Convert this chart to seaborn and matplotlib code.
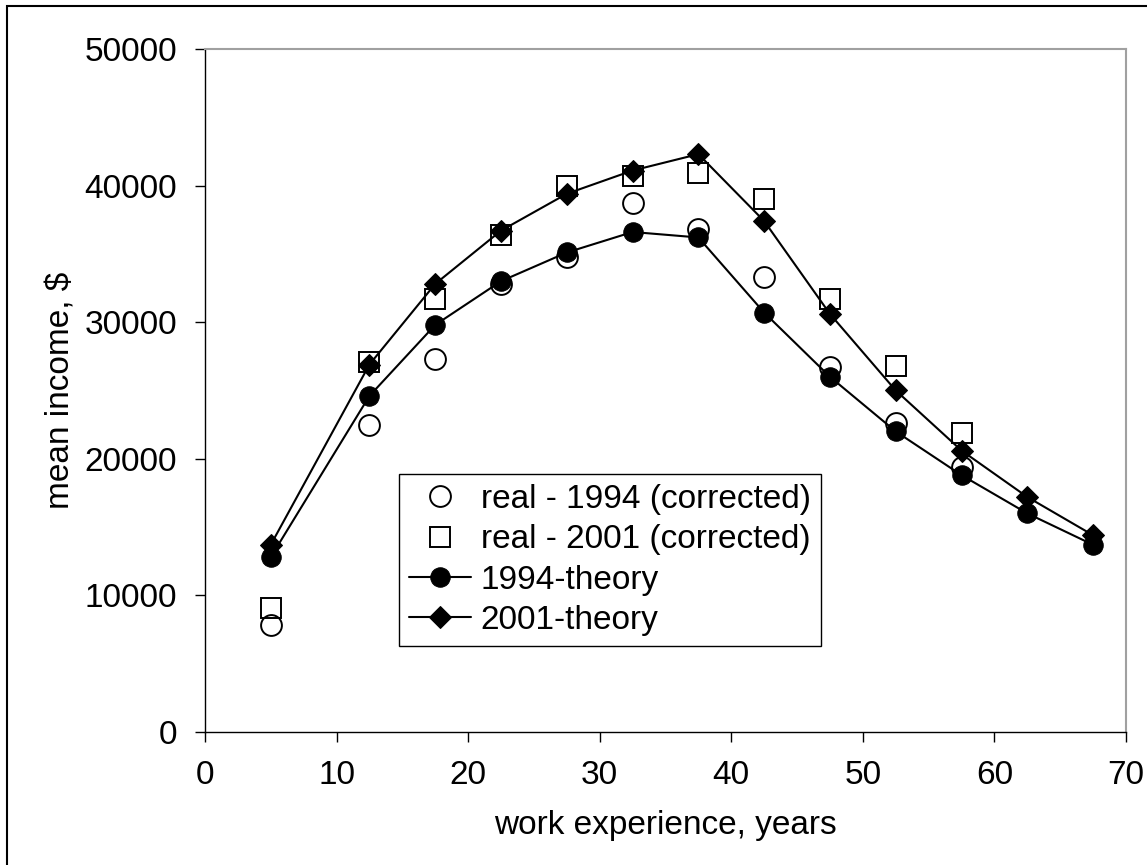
import pandas as pd
import matplotlib
matplotlib.use('Agg')
import matplotlib.pyplot as plt
import matplotlib.patches as patches
import seaborn as sns

# work experience, years (mid-points of the groups)
experiencia = [5, 12.5, 17.5, 22.5, 27.5, 32.5, 37.5, 42.5, 47.5, 52.5, 57.5, 62.5, 67.5]
experiencia_real = [5, 12.5, 17.5, 22.5, 27.5, 32.5, 37.5, 42.5, 47.5, 52.5, 57.5]

real_1994 = [7800, 22500, 27300, 32800, 34800, 38700, 36800, 33300, 26700, 22600, 19400]
real_2001 = [9100, 27100, 31700, 36400, 40000, 40700, 40900, 39000, 31700, 26800, 21900]
teoria_1994 = [12800, 24600, 29800, 33000, 35100, 36600, 36200, 30700, 26000, 22000, 18800, 16000, 13700]
teoria_2001 = [13700, 26900, 32800, 36700, 39400, 41100, 42300, 37400, 30600, 25000, 20600, 17200, 14400]

sns.set_style('ticks')
plt.rcParams['font.family'] = ['Liberation Sans', 'DejaVu Sans']
plt.rcParams['font.size'] = 24
plt.rcParams['text.color'] = 'black'
plt.rcParams['axes.labelcolor'] = 'black'

fig = plt.figure(figsize=(11.47, 8.65), dpi=100)
ax = fig.add_axes([0.1787, 0.1538, 0.8030, 0.7896])

sns.lineplot(x=experiencia_real, y=real_1994, ax=ax, linestyle='none', marker='o',
             markersize=15, markerfacecolor='none', markeredgecolor='black',
             markeredgewidth=1.4, color='black', label='real - 1994 (corrected)')
sns.lineplot(x=experiencia_real, y=real_2001, ax=ax, linestyle='none', marker='s',
             markersize=15, markerfacecolor='none', markeredgecolor='black',
             markeredgewidth=1.4, color='black', label='real - 2001 (corrected)')
sns.lineplot(x=experiencia, y=teoria_1994, ax=ax, color='black', linewidth=1.5, marker='o',
             markersize=14, markerfacecolor='black', markeredgecolor='black',
             label='1994-theory')
sns.lineplot(x=experiencia, y=teoria_2001, ax=ax, color='black', linewidth=1.5, marker='D',
             markersize=11, markerfacecolor='black', markeredgecolor='black',
             label='2001-theory')

ax.set_xlim(0, 70)
ax.set_ylim(0, 50000)
ax.set_xticks(range(0, 71, 10))
ax.set_yticks(range(0, 50001, 10000))
ax.tick_params(direction='out', length=7, width=1, colors='black', labelsize=24, pad=13)
ax.set_xlabel('work experience, years', fontsize=24, labelpad=14)
ax.set_ylabel('mean income, $', fontsize=24, labelpad=6)

for lado in ['left', 'bottom']:
    ax.spines[lado].set_color('black')
    ax.spines[lado].set_linewidth(1.0)
for lado in ['top', 'right']:
    ax.spines[lado].set_visible(True)
    ax.spines[lado].set_color('#a0a0a0')
    ax.spines[lado].set_linewidth(1.5)

leg = ax.legend(loc='upper left', bbox_to_anchor=(399 / 1147, 1 - 474 / 865),
                bbox_transform=fig.transFigure, borderaxespad=0, fontsize=24,
                frameon=True, fancybox=False, edgecolor='black', framealpha=1,
                borderpad=0.3, labelspacing=0.28, handlelength=1.85, handletextpad=0.3)
leg.get_frame().set_linewidth(1.0)

# chart area border
fig.patches.append(patches.Rectangle((7 / 1147, -0.01), 1.0, 1 - 6 / 865 + 0.01,
                                     transform=fig.transFigure, fill=False,
                                     edgecolor='black', linewidth=1.5))

plt.savefig('out.png', dpi=100)
